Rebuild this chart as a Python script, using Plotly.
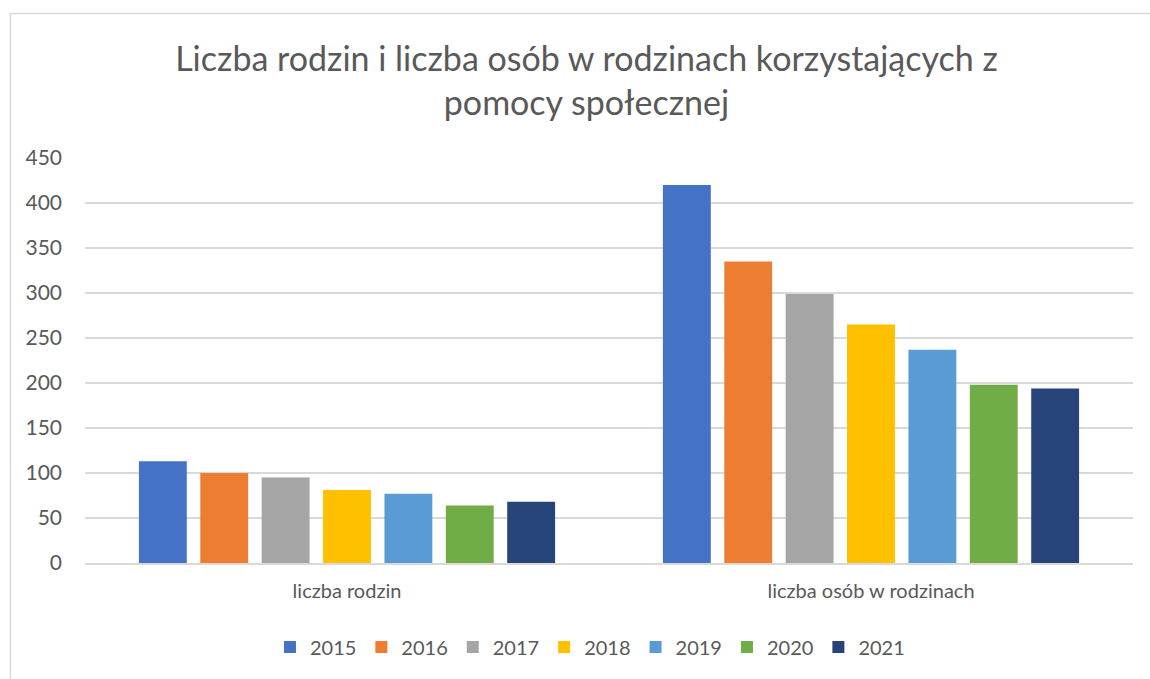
import plotly.graph_objects as go

categories = ["liczba rodzin", "liczba osób w rodzinach"]
years = ["2015", "2016", "2017", "2018", "2019", "2020", "2021"]
values = {
    "2015": [113, 420],
    "2016": [100, 335],
    "2017": [95, 299],
    "2018": [81, 265],
    "2019": [77, 237],
    "2020": [64, 198],
    "2021": [68, 194],
}
colors = ["#4472C4", "#ED7D31", "#A5A5A5", "#FFC000", "#5B9BD5", "#70AD47", "#264478"]

FONT = "Lato"
GREY = "#595959"

fig = go.Figure()
for year, color in zip(years, colors):
    fig.add_trace(go.Bar(
        x=categories, y=values[year], name=year,
        marker=dict(color=color, line=dict(width=0)),
    ))

fig.update_layout(
    width=1150, height=679,
    margin=dict(l=85, r=17, t=158, b=116),
    paper_bgcolor="white", plot_bgcolor="white",
    font=dict(family=FONT, color=GREY, size=20),
    title=dict(
        text="Liczba rodzin i liczba osób w rodzinach korzystających z<br>pomocy społecznej",
        x=0.51, xanchor="center", y=0.895, yanchor="middle",
        yref="container",
        font=dict(family=FONT, size=34, color=GREY),
    ),
    barmode="group", bargap=0.18, bargroupgap=0.22,
    showlegend=True,
    legend=dict(
        orientation="h", x=0.513, xanchor="center", xref="container",
        y=0.047, yref="container", yanchor="middle",
        font=dict(size=20, color=GREY),
        itemwidth=30, tracegroupgap=0,
    ),
    shapes=[dict(
        type="rect", xref="paper", yref="paper",
        x0=-0.0711, x1=1.1, y0=-0.4, y1=1.3568,
        line=dict(color="#D9D9D9", width=1.5), fillcolor="rgba(0,0,0,0)",
    )],
)
fig.update_xaxes(showgrid=False, showline=True, linecolor="#D9D9D9", linewidth=1.5,
                 ticks="", ticklabelstandoff=9, tickfont=dict(size=20, color=GREY))
fig.update_yaxes(range=[0, 450], dtick=50, showgrid=True, gridcolor="#D9D9D9",
                 gridwidth=1.5, zeroline=False, showline=False,
                 ticklabelstandoff=22, tickfont=dict(size=21, color=GREY))

fig.write_html("out.html", config={"displayModeBar": False},
               post_script="document.body.style.margin='0';document.body.style.overflow='hidden';")
